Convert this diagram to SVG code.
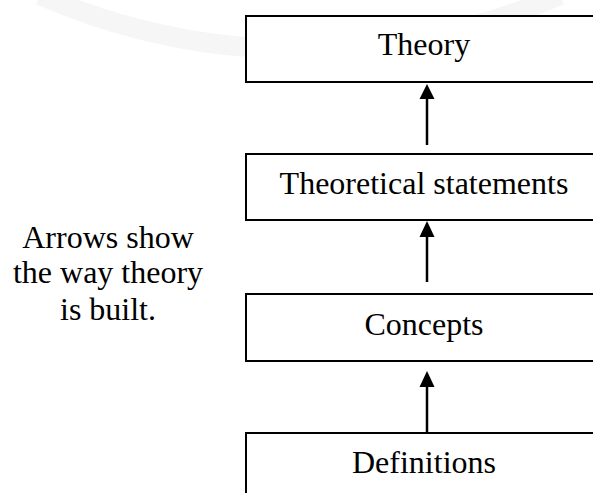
<svg xmlns="http://www.w3.org/2000/svg" width="593" height="493" viewBox="0 0 593 493">
<style>
  .box { fill: #ffffff; stroke: #000000; stroke-width: 2; }
  .lbl { font-family: "Liberation Serif", "Times New Roman", serif; font-size: 32px; fill: #000000; text-anchor: middle; }
  .conn { stroke: #000000; stroke-width: 2.5; fill: none; }
  .wm { fill: none; stroke: #f6f6f6; stroke-width: 20; }
</style>
<rect width="593" height="493" fill="#ffffff"/>
<g id="watermark">
  <path class="wm" d="M40,-5 A650,650 0 0 0 560,-5"/>
</g>
<g id="theory">
  <rect class="box" x="246" y="16" width="360" height="66"/>
  <text class="lbl" x="424" y="55">Theory</text>
</g>
<g id="statements">
  <rect class="box" x="246" y="154" width="360" height="66"/>
  <text class="lbl" x="424" y="194">Theoretical statements</text>
</g>
<g id="concepts">
  <rect class="box" x="246" y="294" width="360" height="67"/>
  <text class="lbl" x="424" y="335">Concepts</text>
</g>
<g id="definitions">
  <rect class="box" x="246" y="433" width="360" height="80"/>
  <text class="lbl" x="424" y="473">Definitions</text>
</g>
<g id="note">
  <text class="lbl" x="108" y="248">Arrows show</text>
  <text class="lbl" x="108" y="283">the way theory</text>
  <text class="lbl" x="108" y="320">is built.</text>
</g>
<g id="connectors">
  <line class="conn" x1="427" y1="145" x2="427" y2="97"/>
  <polygon points="427,84 419.5,99 434.5,99" fill="#000"/>
  <line class="conn" x1="427" y1="282" x2="427" y2="235"/>
  <polygon points="427,221 419.5,237 434.5,237" fill="#000"/>
  <line class="conn" x1="427" y1="433" x2="427" y2="385"/>
  <polygon points="427,371 419.5,387 434.5,387" fill="#000"/>
</g>
</svg>
